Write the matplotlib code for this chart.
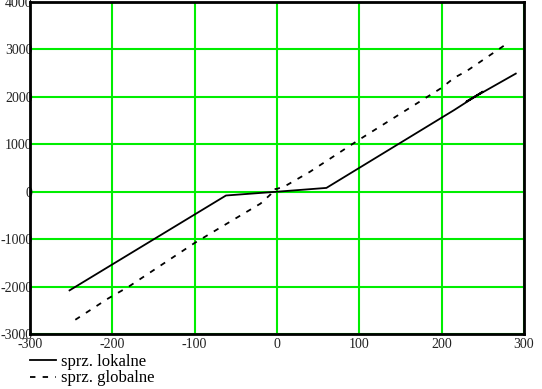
import matplotlib.pyplot as plt

# solid series (lokalne)
x_lok = [-252, -62, 0, 60, 215, 250, 230, 290]
y_lok = [-2080, -80, 0, 80, 1720, 2110, 1900, 2490]

# dashed series (globalne)
x_glob = [-245, -205, -195, -180, -100, -50, -20, -8, -6, 0, 10, 40, 100, 200, 215, 230, 280]
y_glob = [-2700, -2250, -2150, -2000, -1080, -560, -250, -60, 50, 60, 120, 420, 1100, 2190, 2400, 2540, 3130]

x_ticks = [-300, -200, -100, 0, 100, 200, 300]
y_ticks = [-3000, -2000, -1000, 0, 1000, 2000, 3000, 4000]

plt.rcParams['font.family'] = ['Liberation Serif', 'DejaVu Serif']
plt.rcParams['axes.unicode_minus'] = False

fig = plt.figure(figsize=(5.42, 3.89), dpi=100)
ax = fig.add_axes([0.0554, 0.1414, 0.9114, 0.8535])

ax.plot(x_lok, y_lok, color='black', lw=1.3, label='sprz. lokalne')
ax.plot(x_glob, y_glob, color='black', lw=1.3, linestyle=(0, (3, 4)), label='sprz. globalne')

ax.set_xlim(-300, 300)
ax.set_ylim(-3000, 4000)
ax.set_xticks(x_ticks)
ax.set_yticks(y_ticks)
ax.grid(True, color='#00ee00', lw=1.5)
ax.set_axisbelow(True)
for s in ax.spines.values():
    s.set_linewidth(2)
    s.set_color('black')
ax.tick_params(length=0, labelsize=10, labelcolor='#222222')
ax.tick_params(axis='y', pad=-2)
ax.tick_params(axis='x', pad=3)

ax.legend(loc='upper left', bbox_to_anchor=(0.055, 0.091), bbox_transform=fig.transFigure,
          frameon=False, fontsize=12, handlelength=1.6, handletextpad=0.3,
          labelspacing=0.05, borderaxespad=0, borderpad=0)

fig.savefig('out.png', dpi=100)
